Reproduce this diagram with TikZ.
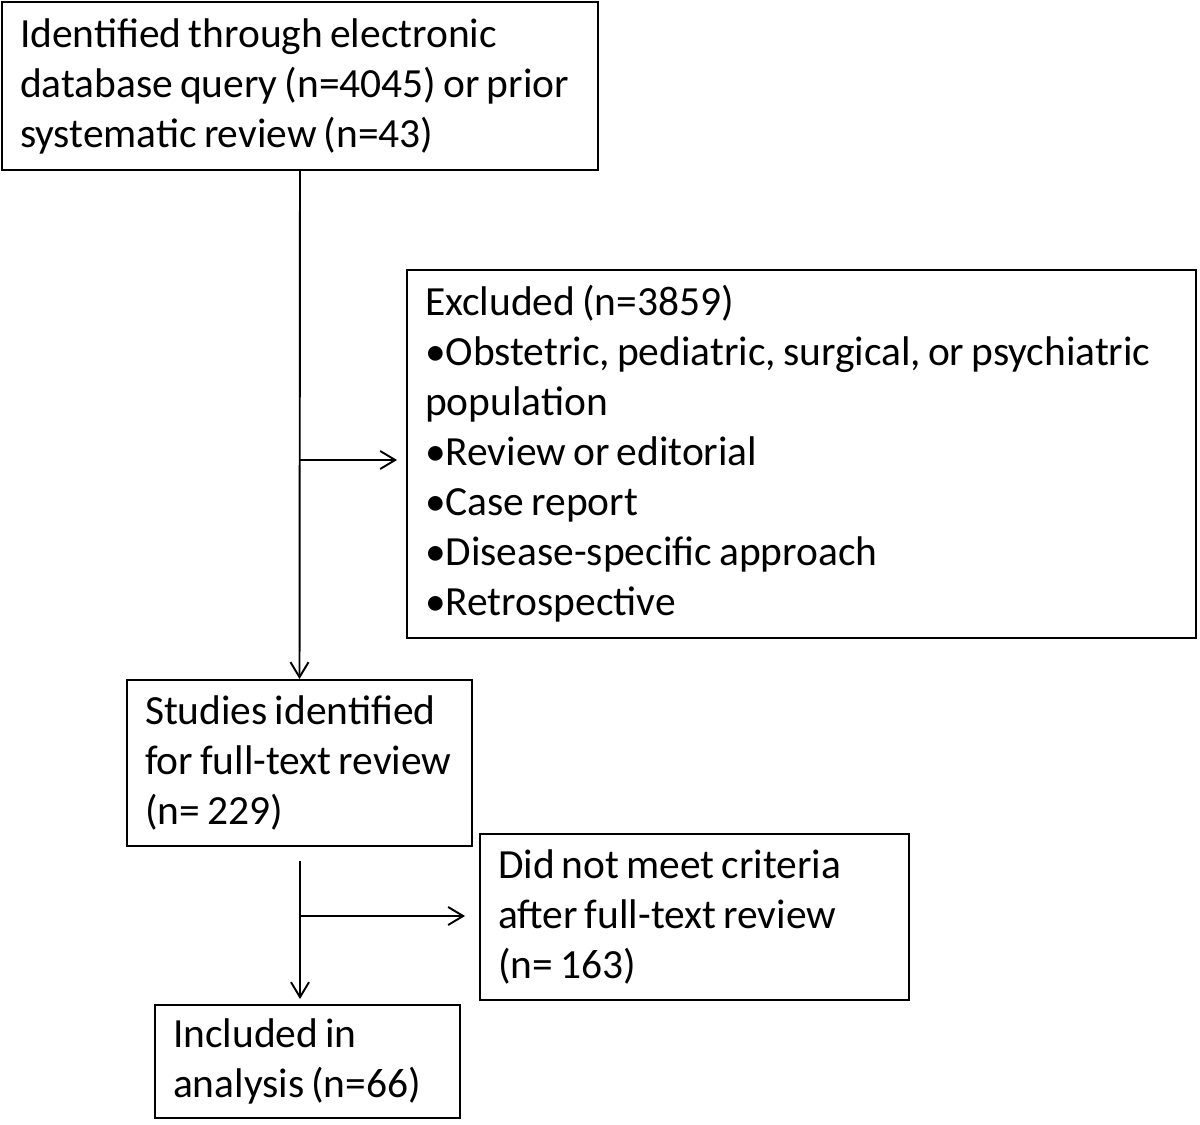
\documentclass[tikz,border=0pt]{standalone}
\usepackage{fontspec}
\setmainfont{Carlito}
\usetikzlibrary{arrows.meta,positioning}
\hyphenpenalty=10000
\newcommand\boxfont{\fontsize{23.6}{28.45}\selectfont\spaceskip=0.17em\relax}
\tikzstyle{box} = [rectangle, draw=black, line width=1.1pt, align=flush left, inner xsep=0.36cm, inner ysep=0pt, font=\boxfont]
\tikzstyle{arr} = [-{Straight Barb[length=0.3cm,width=0.36cm]}, line width=1.1pt]

\begin{document}
\begin{tikzpicture}
\useasboundingbox (0,0) rectangle (24,-22.48);
		% boxes
		\node[box, minimum width=11.92cm, minimum height=3.36cm, text width=11.2cm](ident) at (6.0,-1.72){Identified through electronic\\database query (n=4045) or prior\\systematic review (n=43)};
		\node[box, minimum width=15.78cm, minimum height=7.36cm, text width=15.06cm](excl) at (16.03,-9.08){Excluded (n=3859)\\•Obstetric, pediatric, surgical, or psychiatric\\population\\•Review or editorial\\•Case report\\•Disease-specific approach\\•Retrospective};
		\node[box, minimum width=6.9cm, minimum height=3.32cm, text width=6.18cm](studies) at (5.99,-15.26){Studies identified\\\mbox{for full-text review}\\(n= 229)};
		\node[box, minimum width=8.58cm, minimum height=3.32cm, text width=7.86cm](crit) at (13.89,-18.34){Did not meet criteria\\after full-text review\\(n= 163)};
		\node[box, minimum width=6.1cm, minimum height=2.26cm, text width=5.38cm](incl) at (6.15,-21.23){Included in\\analysis (n=66)};
		
		% connectors
		\coordinate (split1) at (6,-9.2);
		\coordinate (top2) at (6,-17.22);
		\coordinate (split2) at (6,-18.32);
		\draw[arr] (ident.south) -- (studies.north);
		\draw[arr, shorten >=0.18cm] (split1) -- (split1 -| excl.west);
		\draw[arr, shorten >=0.1cm] (top2) -- (top2 |- incl.north);
		\draw[arr, shorten >=0.28cm] (split2) -- (split2 -| crit.west);
\end{tikzpicture}
\end{document}
